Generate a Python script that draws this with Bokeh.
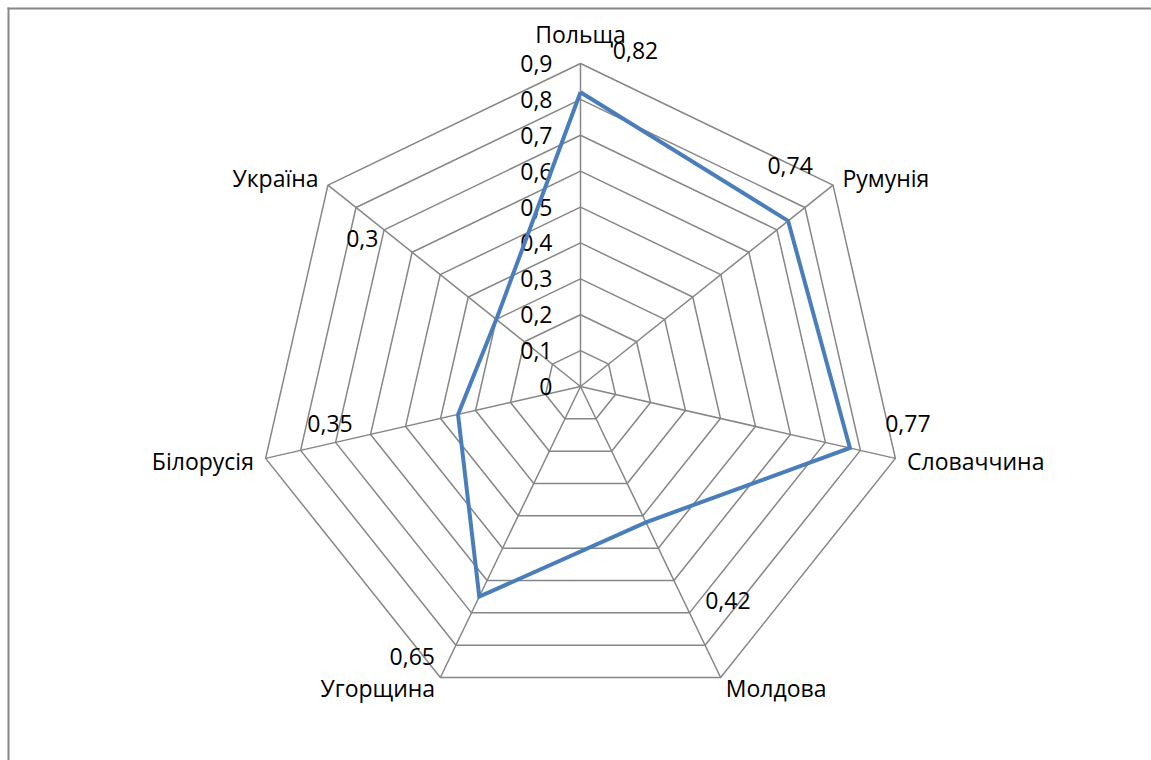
import math
from bokeh.plotting import figure
from bokeh.models import Range1d
from bokeh.core.properties import value
from bokeh.embed import file_html
from bokeh.resources import INLINE

# ---- data ----
categories = ["Польща", "Румунія", "Словаччина", "Молдова", "Угорщина", "Білорусія", "Україна"]
values = [0.82, 0.74, 0.77, 0.42, 0.65, 0.35, 0.30]
value_labels = ["0,82", "0,74", "0,77", "0,42", "0,65", "0,35", "0,3"]
ring_levels = [0.1, 0.2, 0.3, 0.4, 0.5, 0.6, 0.7, 0.8, 0.9]
ring_labels = ["0", "0,1", "0,2", "0,3", "0,4", "0,5", "0,6", "0,7", "0,8", "0,9"]
axis_max = 0.9

# ---- layout (pixel offsets of the data labels from their points, screen px, y down) ----
label_offsets = [(55, -42), (2, -55), (58, -24), (82, 78), (-67, 60), (-128, 9), (-134, -81)]

W, H = 1151, 760
S = 323 / axis_max          # px per value unit
cx_pg, cy_pg = 580, 386     # centre in page px
FONT = "Open Sans"
FS = "23px"
GRID = "#868686"

def px_to_x(px):
    return (px - cx_pg) / S

def py_to_y(py):
    return (cy_pg - py) / S

p = figure(width=W, height=H, output_backend="svg", toolbar_location=None,
           x_range=Range1d(px_to_x(0), px_to_x(W)),
           y_range=Range1d(py_to_y(H), py_to_y(0)),
           min_border=0, background_fill_color="white", border_fill_color="white")
p.axis.visible = False
p.xgrid.visible = False
p.ygrid.visible = False
p.outline_line_color = None

# chart-area frame (left and top edges visible in the window)
p.segment(x0=[px_to_x(8), px_to_x(7)], y0=[py_to_y(7), py_to_y(8)],
          x1=[px_to_x(8), px_to_x(W + 5)], y1=[py_to_y(H + 5), py_to_y(8)],
          line_color="#878787", line_width=2)

n = len(categories)
angles = [math.pi / 2 - k * 2 * math.pi / n for k in range(n)]

# rings
for lv in ring_levels:
    xs = [lv * math.cos(a) for a in angles] + [lv * math.cos(angles[0])]
    ys = [lv * math.sin(a) for a in angles] + [lv * math.sin(angles[0])]
    p.line(xs, ys, line_color=GRID, line_width=1.5)

# spokes
p.segment(x0=[0] * n, y0=[0] * n,
          x1=[axis_max * math.cos(a) for a in angles],
          y1=[axis_max * math.sin(a) for a in angles],
          line_color=GRID, line_width=1.5)

# ring tick labels on the top spoke
levels_all = [0.0] + ring_levels
p.text(x=[-28 / S] * len(levels_all), y=levels_all, text=ring_labels,
       text_align="right", text_baseline="middle",
       text_font=value(FONT), text_font_size=FS, text_color="black")

# series
dx = [v * math.cos(a) for v, a in zip(values, angles)]
dy = [v * math.sin(a) for v, a in zip(values, angles)]
p.line(dx + [dx[0]], dy + [dy[0]], line_color="#4A7EBB", line_width=4, line_join="miter")

# data labels
lx = [x + o[0] / S for x, o in zip(dx, label_offsets)]
ly = [y - o[1] / S for y, o in zip(dy, label_offsets)]
p.text(x=lx, y=ly, text=value_labels, text_align="center", text_baseline="middle",
       text_font=value(FONT), text_font_size=FS, text_color="black")

# category labels
for cat, a in zip(categories, angles):
    vx, vy = axis_max * math.cos(a), axis_max * math.sin(a)
    c, s = math.cos(a), math.sin(a)
    if abs(c) < 0.1:
        tx, ty, al = vx, vy + 30 / S, "center"
    else:
        tx = vx + 12 * c / S
        ty = vy + 12 * s / S
        al = "left" if c > 0 else "right"
    p.text(x=[tx], y=[ty], text=[cat], text_align=al, text_baseline="middle",
           text_font=value(FONT), text_font_size=FS, text_color="black")

open("out.html", "w").write(file_html(p, INLINE))
